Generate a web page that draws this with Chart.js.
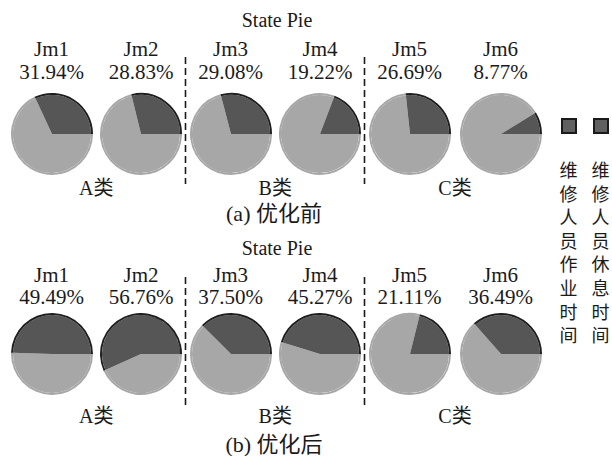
<!DOCTYPE html>
<html lang="zh">
<head>
<meta charset="UTF-8">
<title>State Pie</title>
<script src="https://cdn.jsdelivr.net/npm/chart.js"></script>
<style>
  body { margin: 0; background: #fff; }
  #page { position: relative; width: 612px; height: 456px; overflow: hidden;
          font-family: "Liberation Serif", "Noto Sans CJK SC", serif; color: #1a1a1a; }
  .txt { position: absolute; transform: translate(-50%, -50%); white-space: nowrap; line-height: 1; }
  .pie { position: absolute; width: 84px; height: 84px; }
  .sq { position: absolute; width: 12px; height: 12px; background: #606060; border: 2px solid #1a1a1a; }
  .vert { position: absolute; font-size: 18px; line-height: 23.6px; width: 20px; text-align: center; }
  svg { position: absolute; left: 0; top: 0; }
</style>
</head>
<body>
<div id="page">
  <svg width="612" height="456">
    <g stroke="#1a1a1a" stroke-width="1.6" stroke-dasharray="7 4">
      <line x1="185.5" y1="57" x2="185.5" y2="184"/>
      <line x1="364.5" y1="57" x2="364.5" y2="184"/>
      <line x1="185.5" y1="277" x2="185.5" y2="405"/>
      <line x1="364.5" y1="277" x2="364.5" y2="405"/>
    </g>
  </svg>
</div>

<script>
  // dados
  const maquinas = ['Jm1', 'Jm2', 'Jm3', 'Jm4', 'Jm5', 'Jm6'];
  const trabalhoAntes = [31.94, 28.83, 29.08, 19.22, 26.69, 8.77];
  const trabalhoDepois = [49.49, 56.76, 37.50, 45.27, 21.11, 36.49];
  const grupos = ['A类', 'B类', 'C类'];
  const legendas = ['维修人员作业时间', '维修人员休息时间'];

  const page = document.getElementById('page');
  const centrosX = [51.5, 141, 230.5, 320, 409.5, 500.5];

  function addTexto(texto, x, y, tam) {
    const d = document.createElement('div');
    d.className = 'txt';
    d.style.left = x + 'px';
    d.style.top = y + 'px';
    d.style.fontSize = tam + 'px';
    d.textContent = texto;
    page.appendChild(d);
  }

  function painel(valores, yPie, yTitulo, yNome, yPct, yGrupo, yLegenda, legenda) {
    addTexto('State Pie', 277, yTitulo, 20);
    for (let i = 0; i < maquinas.length; i++) {
      addTexto(maquinas[i], centrosX[i], yNome, 21);
      addTexto(valores[i].toFixed(2) + '%', centrosX[i], yPct, 21);

      const box = document.createElement('div');
      box.className = 'pie';
      box.style.left = (centrosX[i] - 42) + 'px';
      box.style.top = (yPie - 42) + 'px';
      const cv = document.createElement('canvas');
      cv.width = 84; cv.height = 84;
      box.appendChild(cv);
      page.appendChild(box);

      const descanso = 100 - valores[i];
      new Chart(cv, {
        type: 'pie',
        data: {
          labels: ['休息', '作业'],
          datasets: [{
            // anel fino externo: borda preta do setor escuro
            data: [descanso, valores[i]],
            backgroundColor: ['#a7a7a7', '#1e1e1e'],
            borderWidth: 0,
            weight: 1
          }, {
            data: [descanso, valores[i]],
            backgroundColor: ['#a7a7a7', '#565656'],
            borderWidth: 0,
            weight: 20
          }]
        },
        options: {
          responsive: false,
          animation: false,
          rotation: 90,
          layout: { padding: 1 },
          plugins: { legend: { display: false }, tooltip: { enabled: false } }
        }
      });
    }
    for (let g = 0; g < grupos.length; g++) {
      addTexto(grupos[g], (centrosX[2 * g] + centrosX[2 * g + 1]) / 2, yGrupo, 20);
    }
    addTexto(legenda, 274, yLegenda, 22);
  }

  painel(trabalhoAntes, 134, 20, 49, 72, 188, 214, '(a) 优化前');
  painel(trabalhoDepois, 353.5, 248, 274.5, 296.5, 416, 445, '(b) 优化后');

  // legenda lateral
  const colX = [568.5, 600.5];
  for (let k = 0; k < legendas.length; k++) {
    const sq = document.createElement('div');
    sq.className = 'sq';
    sq.style.left = (colX[k] - 8) + 'px';
    sq.style.top = '118px';
    page.appendChild(sq);

    const v = document.createElement('div');
    v.className = 'vert';
    v.style.left = (colX[k] - 10) + 'px';
    v.style.top = '160px';
    v.innerHTML = legendas[k].split('').join('<br>');
    page.appendChild(v);
  }
</script>
</body>
</html>
